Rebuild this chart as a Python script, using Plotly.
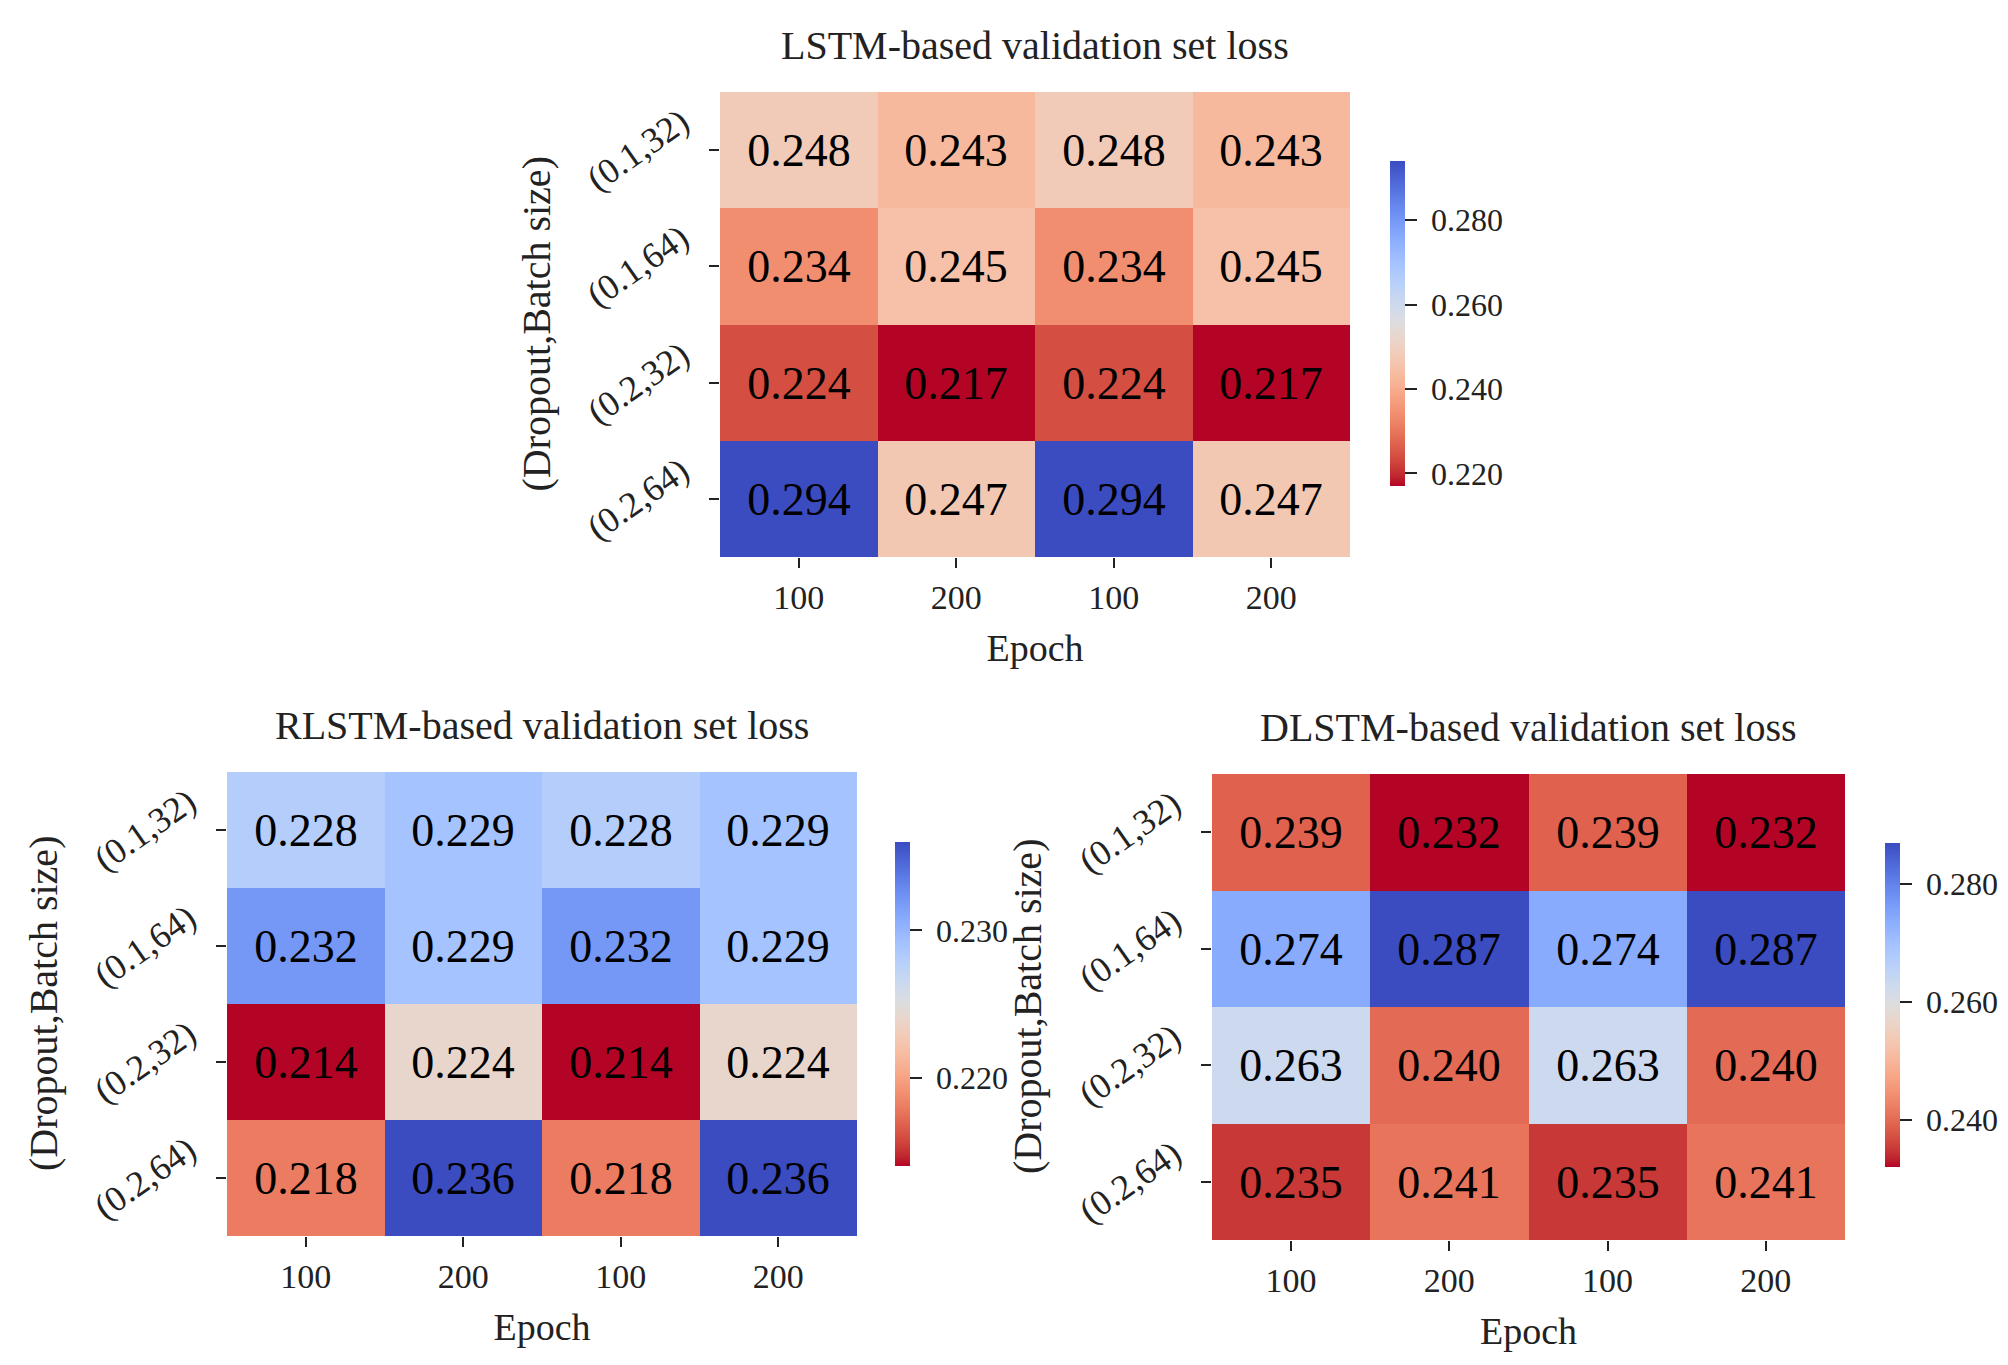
import plotly.graph_objs as go

# validation loss grids, rows = (dropout, batch size), cols = epochs
epoch_labels = ["100", "200", "100", "200"]
row_labels = ["(0.1,32)", "(0.1,64)", "(0.2,32)", "(0.2,64)"]

lstm_loss = [[0.248, 0.243, 0.248, 0.243],
             [0.234, 0.245, 0.234, 0.245],
             [0.224, 0.217, 0.224, 0.217],
             [0.294, 0.247, 0.294, 0.247]]

rlstm_loss = [[0.228, 0.229, 0.228, 0.229],
              [0.232, 0.229, 0.232, 0.229],
              [0.214, 0.224, 0.214, 0.224],
              [0.218, 0.236, 0.218, 0.236]]

dlstm_loss = [[0.239, 0.232, 0.239, 0.232],
              [0.274, 0.287, 0.274, 0.287],
              [0.263, 0.240, 0.263, 0.240],
              [0.235, 0.241, 0.235, 0.241]]

titles = ["LSTM-based validation set loss",
          "RLSTM-based validation set loss",
          "DLSTM-based validation set loss"]

# matplotlib coolwarm (Moreland), reversed below so low = red
coolwarm = [(59, 76, 192), (68, 90, 204), (77, 104, 215), (87, 117, 225),
            (98, 130, 234), (108, 142, 241), (119, 154, 247), (130, 165, 251),
            (141, 176, 254), (152, 185, 255), (163, 194, 255), (174, 201, 253),
            (184, 208, 249), (194, 213, 244), (204, 217, 238), (213, 219, 230),
            (221, 221, 221), (229, 216, 209), (236, 211, 197), (241, 204, 185),
            (245, 196, 173), (247, 187, 160), (247, 177, 148), (247, 166, 135),
            (244, 154, 123), (241, 141, 111), (236, 127, 99), (229, 112, 88),
            (222, 96, 77), (213, 80, 66), (203, 62, 56), (192, 40, 47),
            (180, 4, 38)]
rev = coolwarm[::-1]
n = len(rev) - 1
coolwarm_r = [[i / n, 'rgb(%d,%d,%d)' % c] for i, c in enumerate(rev)]

FONT = "Liberation Serif"

W, H = 2008, 1365

# panel boxes in pixels: (left, top, right, bottom)
panels = [(712, 84, 1342, 549),
          (219, 764, 849, 1228),
          (1204, 766, 1837, 1232)]
# colorbar: left, top, bottom, tick step
cbars = [(1382, 153, 478, 0.02),
         (887, 834, 1158, 0.01),
         (1877, 835, 1159, 0.02)]

fig = go.Figure()

for i, (z, title) in enumerate(zip([lstm_loss, rlstm_loss, dlstm_loss], titles)):
    l, t, r, b = panels[i]
    cx, ctop, cbot, dt = cbars[i]
    sfx = '' if i == 0 else str(i + 1)
    fig.add_trace(go.Heatmap(
        z=z,
        x=list(range(len(epoch_labels))),
        y=list(range(len(row_labels))),
        colorscale=coolwarm_r,
        xaxis='x' + sfx,
        yaxis='y' + sfx,
        texttemplate='%{z:.3f}',
        textfont=dict(family=FONT, size=46, color='black'),
        hoverinfo='skip',
        colorbar=dict(
            x=cx / W, xanchor='left', xpad=0, ypad=0,
            y=1 - (ctop + cbot) / 2 / H, yanchor='middle',
            len=(cbot - ctop) / H, lenmode='fraction',
            thickness=15, thicknessmode='pixels',
            outlinewidth=0,
            ticks='outside', ticklen=12, tickwidth=2, tickcolor='#222',
            dtick=dt, tickformat='.3f', tickprefix=' ',
            tickfont=dict(family=FONT, size=32, color='#222'),
        ),
    ))
    fig.layout['xaxis' + sfx] = dict(
        domain=[l / W, r / W],
        anchor='y' + sfx,
        tickvals=list(range(len(epoch_labels))),
        ticktext=epoch_labels,
        ticks='outside', ticklen=10, tickwidth=2, tickcolor='#222',
        tickfont=dict(family=FONT, size=34, color='#222'),
        title=dict(text='Epoch', font=dict(family=FONT, size=38, color='#222'), standoff=19),
        showgrid=False, zeroline=False, showline=False,
        range=[-0.5, 3.5],
    )
    fig.layout['yaxis' + sfx] = dict(
        domain=[1 - b / H, 1 - t / H],
        anchor='x' + sfx,
        tickvals=list(range(len(row_labels))),
        showticklabels=False,
        ticks='outside', ticklen=10, tickwidth=2, tickcolor='#222',
        showgrid=False, zeroline=False, showline=False,
        range=[3.5, -0.5],
    )
    # slanted row labels
    for k, lab in enumerate(row_labels):
        fig.add_annotation(
            text=lab, xref='paper', yref='y' + sfx,
            x=(l - 82) / W, y=k,
            xanchor='center', yanchor='middle', showarrow=False,
            textangle=-35,
            font=dict(family=FONT, size=36, color='#222'),
        )
    fig.add_annotation(
        text='(Dropout,Batch size)', xref='paper', yref='paper',
        x=(l - 184) / W, y=1 - (t + b) / 2 / H,
        xanchor='center', yanchor='middle', showarrow=False,
        textangle=-90,
        font=dict(family=FONT, size=40, color='#222'),
    )
    fig.add_annotation(
        text=title, xref='paper', yref='paper',
        x=(l + r) / 2 / W, y=1 - (t - 47) / H,
        xanchor='center', yanchor='middle', showarrow=False,
        font=dict(family=FONT, size=40, color='#222'),
    )

fig.update_layout(
    width=W, height=H,
    margin=dict(l=0, r=0, t=0, b=0),
    paper_bgcolor='white',
    plot_bgcolor='white',
    showlegend=False,
)

fig.write_html("out.html")
